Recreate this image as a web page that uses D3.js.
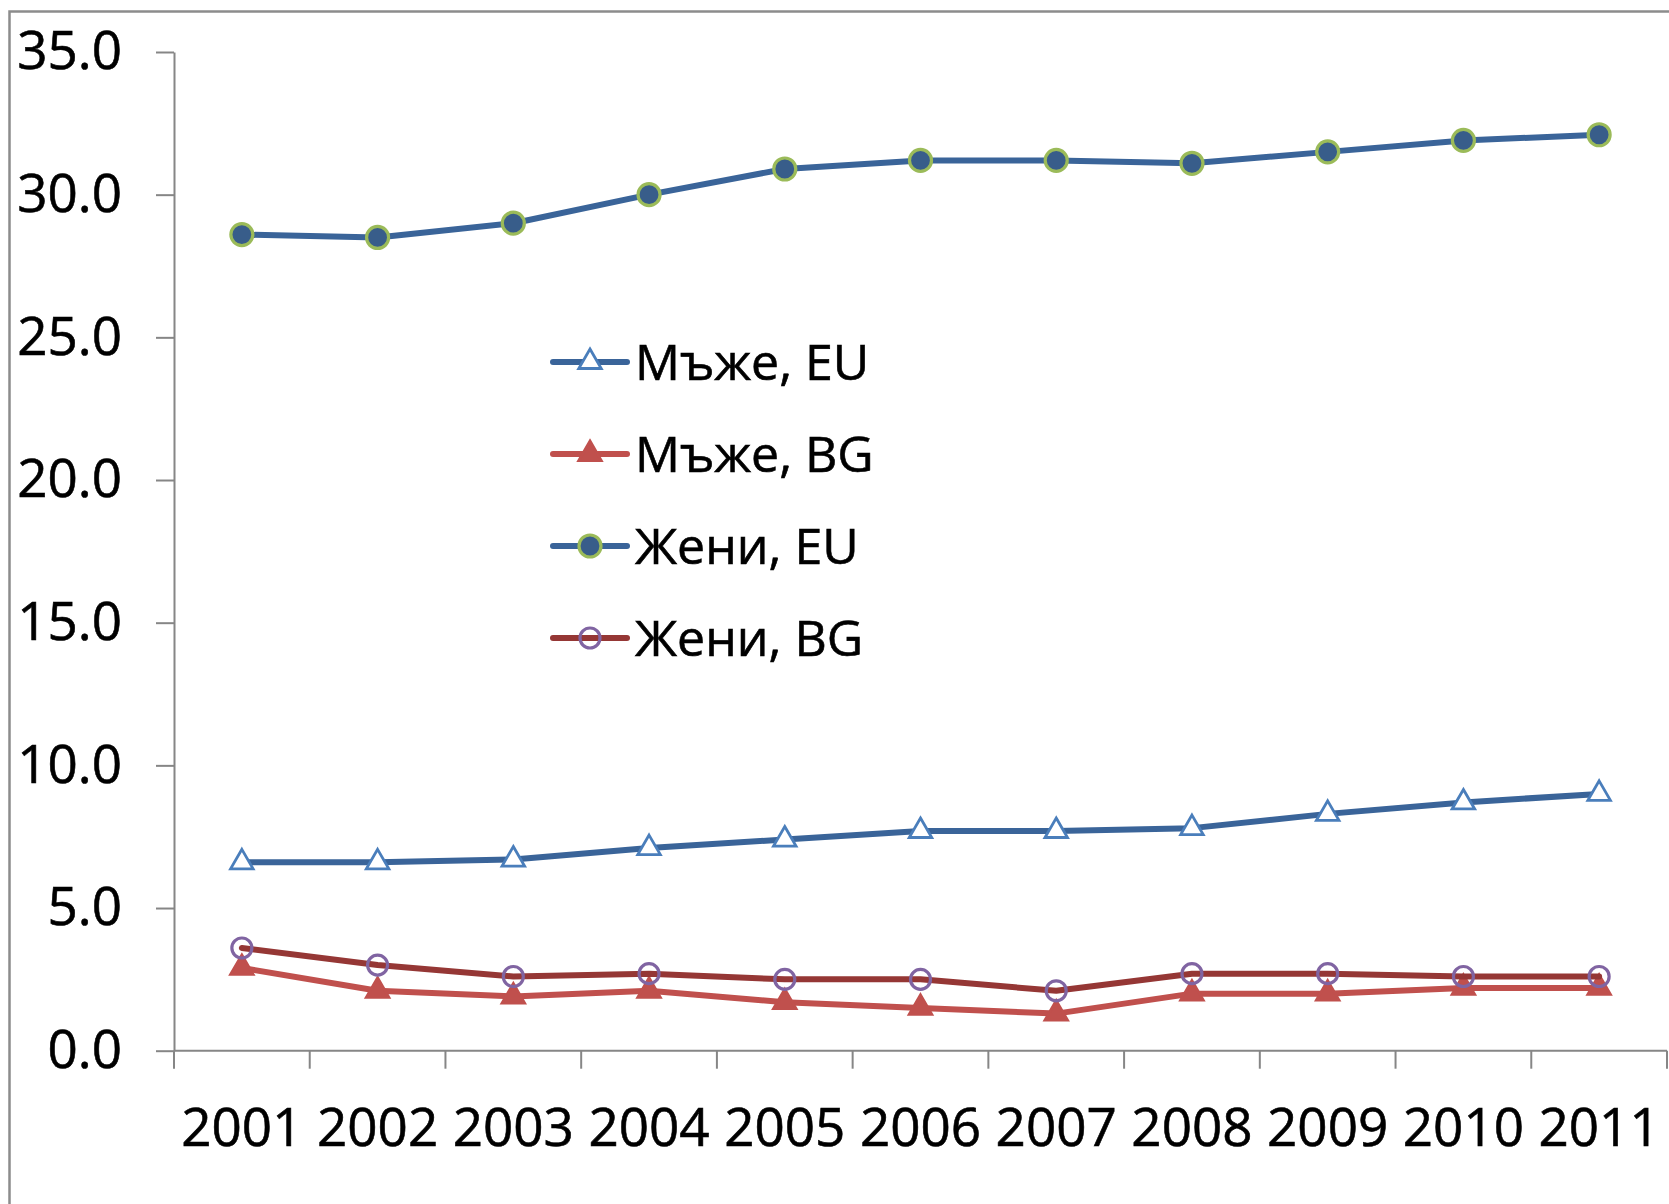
<!DOCTYPE html>
<html>
<head>
<meta charset="utf-8">
<script src="https://cdn.jsdelivr.net/npm/d3@7"></script>
<style>
  body { margin: 0; background: #fff; }
  svg text { font-family: "Open Sans", sans-serif; fill: #000; }
</style>
</head>
<body>
<svg id="chart" width="1669" height="1204"></svg>
<script>
// data
var years = ['2001', '2002', '2003', '2004', '2005', '2006', '2007', '2008', '2009', '2010', '2011'];
var men_eu = [6.6, 6.6, 6.7, 7.1, 7.4, 7.7, 7.7, 7.8, 8.3, 8.7, 9.0];
var men_bg = [2.9, 2.1, 1.9, 2.1, 1.7, 1.5, 1.3, 2.0, 2.0, 2.2, 2.2];
var women_eu = [28.6, 28.5, 29.0, 30.0, 30.9, 31.2, 31.2, 31.1, 31.5, 31.9, 32.1];
var women_bg = [3.6, 3.0, 2.6, 2.7, 2.5, 2.5, 2.1, 2.7, 2.7, 2.6, 2.6];
var y_ticks = [0, 5, 10, 15, 20, 25, 30, 35];

var series = [
  {name: 'Мъже, EU', values: men_eu, line: '#3A6499', marker: 'triangle', fill: '#fff', stroke: '#4A7EBB'},
  {name: 'Мъже, BG', values: men_bg, line: '#C0504D', marker: 'triangle', fill: '#C0504D', stroke: '#C0504D'},
  {name: 'Жени, EU', values: women_eu, line: '#3A6499', marker: 'circle', fill: '#385D8A', stroke: '#9BBB59'},
  {name: 'Жени, BG', values: women_bg, line: '#953735', marker: 'circle', fill: 'none', stroke: '#8064A2'}
];

var svg = d3.select('#chart');
svg.append('rect').attr('width', 1669).attr('height', 1204).attr('fill', '#fff');

// outer chart frame (runs off the right and bottom edges)
svg.append('rect')
  .attr('x', 9.5).attr('y', 11.5)
  .attr('width', 1700).attr('height', 1250)
  .attr('fill', 'none').attr('stroke', '#8c8c8c').attr('stroke-width', 2.5);

var x = d3.scaleBand().domain(years).range([174, 1667]);
var y = d3.scaleLinear().domain([0, 35]).range([1050.7, 52]);

// y axis
var yAxis = svg.append('g')
  .attr('transform', 'translate(174,0)')
  .call(d3.axisLeft(y).tickValues(y_ticks).tickSize(18).tickSizeOuter(0).tickPadding(34).tickFormat(d3.format('.1f')));
yAxis.select('.domain').attr('stroke', '#868686').attr('stroke-width', 2);
yAxis.selectAll('.tick line').attr('stroke', '#868686').attr('stroke-width', 2);
yAxis.selectAll('.tick text').attr('font-size', 53).attr('font-family', '"Open Sans", sans-serif').attr('fill', '#000')
  .attr('stroke', '#000').attr('stroke-width', 0.6);

// x axis with ticks between categories
var xAxis = svg.append('g').attr('transform', 'translate(0,' + y(0) + ')');
xAxis.append('line')
  .attr('x1', 174).attr('x2', 1667)
  .attr('stroke', '#868686').attr('stroke-width', 2);
var bounds = years.map(function(d) { return x(d); }).concat([x.range()[1]]);
xAxis.selectAll('line.tk').data(bounds).enter().append('line')
  .attr('class', 'tk')
  .attr('x1', function(d) { return d; }).attr('x2', function(d) { return d; })
  .attr('y1', 0).attr('y2', 18)
  .attr('stroke', '#868686').attr('stroke-width', 2);
xAxis.selectAll('text').data(years).enter().append('text')
  .attr('x', function(d) { return x(d) + x.bandwidth() / 2; })
  .attr('y', 95)
  .attr('text-anchor', 'middle')
  .attr('font-size', 53)
  .attr('stroke', '#000').attr('stroke-width', 0.6)
  .text(function(d) { return d; });

var cx = function(d, i) { return x(years[i]) + x.bandwidth() / 2; };
var line = d3.line().x(cx).y(function(d) { return y(d); });

function drawMarker(g, s, px, py) {
  if (s.marker === 'triangle') {
    g.append('path')
      .attr('d', d3.symbol().type(d3.symbolTriangle).size(220)())
      .attr('transform', 'translate(' + px + ',' + py + ')')
      .attr('fill', s.fill).attr('stroke', s.stroke).attr('stroke-width', 2.8);
  } else {
    g.append('circle')
      .attr('cx', px).attr('cy', py).attr('r', s.fill === 'none' ? 10 : 11)
      .attr('fill', s.fill).attr('stroke', s.stroke).attr('stroke-width', 3.2);
  }
}

series.forEach(function(s) {
  var g = svg.append('g');
  g.append('path')
    .datum(s.values)
    .attr('d', line)
    .attr('fill', 'none')
    .attr('stroke', s.line)
    .attr('stroke-width', 6)
    .attr('stroke-linejoin', 'round')
    .attr('stroke-linecap', 'round');
  s.values.forEach(function(v, i) {
    drawMarker(g, s, cx(v, i), y(v));
  });
});

// legend
var legend = svg.append('g');
series.forEach(function(s, i) {
  var ly = 362 + i * 92;
  var g = legend.append('g');
  g.append('line')
    .attr('x1', 553).attr('x2', 627).attr('y1', ly).attr('y2', ly)
    .attr('stroke', s.line).attr('stroke-width', 6).attr('stroke-linecap', 'round');
  drawMarker(g, s, 590, ly);
  g.append('text')
    .attr('x', 635).attr('y', ly + 18)
    .attr('font-size', 50)
    .attr('stroke', '#000').attr('stroke-width', 0.6)
    .text(s.name);
});
</script>
</body>
</html>
